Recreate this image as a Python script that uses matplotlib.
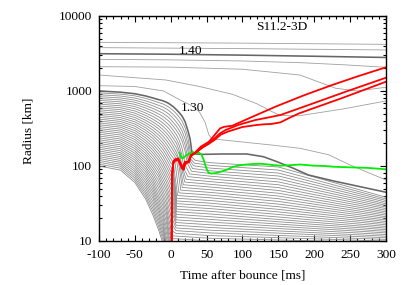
import matplotlib

matplotlib.use("Agg")
import matplotlib.pyplot as plt
from matplotlib.ticker import MultipleLocator, LogLocator, NullFormatter

# All radii are log10(r / km); times are ms after bounce.

# --- inner mass shells: infall part on a shared time grid ---
infall_t = [-100, -70, -50, -35, -25, -17, -11, -6, -3, 0]
infall_logr = [
    [2.000, 1.945, 1.780, 1.560, 1.350, 1.150, 0.970, 0.850, 0.750, 0.650],
    [2.025, 1.971, 1.809, 1.596, 1.395, 1.197, 1.018, 0.874, 0.774, 0.676],
    [2.050, 1.997, 1.839, 1.632, 1.439, 1.245, 1.067, 0.898, 0.798, 0.702],
    [2.075, 2.022, 1.868, 1.667, 1.484, 1.292, 1.115, 0.922, 0.822, 0.728],
    [2.100, 2.048, 1.898, 1.703, 1.528, 1.340, 1.164, 0.946, 0.846, 0.754],
    [2.125, 2.074, 1.927, 1.739, 1.573, 1.387, 1.212, 0.970, 0.870, 0.780],
    [2.150, 2.100, 1.957, 1.776, 1.613, 1.431, 1.265, 1.040, 0.926, 0.824],
    [2.175, 2.126, 1.988, 1.812, 1.653, 1.475, 1.318, 1.111, 0.982, 0.868],
    [2.200, 2.152, 2.018, 1.849, 1.692, 1.520, 1.370, 1.181, 1.038, 0.912],
    [2.225, 2.178, 2.049, 1.885, 1.732, 1.564, 1.423, 1.252, 1.094, 0.956],
    [2.250, 2.204, 2.079, 1.922, 1.772, 1.608, 1.476, 1.322, 1.150, 1.040],
    [2.275, 2.230, 2.110, 1.958, 1.812, 1.658, 1.526, 1.382, 1.226, 1.086],
    [2.300, 2.256, 2.140, 1.993, 1.852, 1.708, 1.576, 1.442, 1.302, 1.171],
    [2.325, 2.282, 2.171, 2.029, 1.893, 1.757, 1.626, 1.501, 1.379, 1.257],
    [2.350, 2.308, 2.201, 2.064, 1.933, 1.807, 1.676, 1.561, 1.455, 1.342],
    [2.375, 2.334, 2.232, 2.100, 1.973, 1.857, 1.726, 1.621, 1.531, 1.428],
    [2.400, 2.360, 2.262, 2.135, 2.013, 1.901, 1.777, 1.674, 1.590, 1.494],
    [2.425, 2.386, 2.292, 2.169, 2.054, 1.945, 1.828, 1.726, 1.649, 1.560],
    [2.450, 2.413, 2.323, 2.204, 2.094, 1.989, 1.880, 1.779, 1.709, 1.626],
    [2.475, 2.439, 2.353, 2.238, 2.135, 2.033, 1.931, 1.831, 1.768, 1.692],
    [2.500, 2.465, 2.383, 2.273, 2.175, 2.077, 1.982, 1.884, 1.827, 1.758],
    [2.525, 2.491, 2.413, 2.307, 2.214, 2.119, 2.030, 1.936, 1.880, 1.815],
    [2.550, 2.517, 2.442, 2.341, 2.253, 2.161, 2.077, 1.989, 1.934, 1.872],
    [2.575, 2.542, 2.472, 2.376, 2.291, 2.204, 2.125, 2.041, 1.987, 1.929],
    [2.600, 2.568, 2.501, 2.410, 2.330, 2.246, 2.172, 2.094, 2.041, 1.986],
    [2.625, 2.594, 2.531, 2.444, 2.369, 2.289, 2.220, 2.146, 2.094, 2.043],
    [2.650, 2.620, 2.560, 2.477, 2.406, 2.331, 2.265, 2.195, 2.146, 2.097],
    [2.675, 2.646, 2.589, 2.510, 2.442, 2.372, 2.309, 2.244, 2.198, 2.151],
    [2.700, 2.672, 2.618, 2.543, 2.479, 2.414, 2.354, 2.294, 2.251, 2.205],
    [2.725, 2.699, 2.647, 2.576, 2.515, 2.456, 2.398, 2.343, 2.303, 2.259],
    [2.750, 2.725, 2.676, 2.609, 2.552, 2.498, 2.443, 2.393, 2.355, 2.313],
    [2.775, 2.751, 2.705, 2.642, 2.588, 2.537, 2.487, 2.439, 2.404, 2.364],
    [2.800, 2.777, 2.734, 2.675, 2.624, 2.577, 2.531, 2.485, 2.453, 2.416],
    [2.825, 2.803, 2.764, 2.707, 2.661, 2.616, 2.574, 2.532, 2.503, 2.467],
    [2.850, 2.829, 2.793, 2.740, 2.697, 2.656, 2.618, 2.578, 2.552, 2.519],
    [2.875, 2.855, 2.822, 2.773, 2.733, 2.695, 2.662, 2.624, 2.601, 2.570],
    [2.900, 2.881, 2.850, 2.805, 2.768, 2.733, 2.704, 2.669, 2.648, 2.619],
    [2.925, 2.907, 2.878, 2.837, 2.803, 2.771, 2.745, 2.715, 2.695, 2.668],
    [2.950, 2.933, 2.906, 2.869, 2.837, 2.809, 2.787, 2.760, 2.742, 2.717],
    [2.975, 2.958, 2.935, 2.902, 2.872, 2.847, 2.828, 2.805, 2.788, 2.766],
]

# --- post-bounce part of shells 10..39 (shock hit, settling, slow contraction) ---
tail_t = [
    [1.0, 7.0, 55, 150, 300],
    [1.1, 7.1, 55, 150, 300],
    [1.2, 7.2, 55, 150, 300],
    [1.3, 7.3, 55, 150, 300],
    [1.4, 7.4, 55, 150, 300],
    [1.5, 7.5, 55, 150, 300],
    [1.6, 7.6, 55, 150, 300],
    [1.7, 7.7, 55, 150, 300],
    [1.8, 7.8, 55, 150, 300],
    [1.9, 7.9, 55, 150, 300],
    [2.0, 8.0, 55, 150, 300],
    [2.1, 8.1, 55, 150, 300],
    [2.2, 8.2, 55, 150, 300],
    [2.3, 8.3, 55, 150, 300],
    [2.4, 8.4, 55, 150, 300],
    [2.5, 8.5, 55, 150, 300],
    [3.5, 9.5, 55, 150, 300],
    [4, 5.5, 11.5, 55, 150, 300],
    [4, 8, 14, 55, 150, 300],
    [4, 8, 10, 16, 55, 150, 300],
    [4, 8, 11.5, 17.5, 55, 150, 300],
    [4, 8, 12, 13.5, 19.5, 55, 150, 300],
    [4, 8, 12, 15.5, 21.5, 55, 150, 300],
    [4, 8, 12, 16, 18, 24, 55, 150, 300],
    [4, 8, 12, 16, 20.5, 26.5, 55, 150, 300],
    [4, 8, 12, 16, 20, 23, 29, 55, 150, 300],
    [4, 8, 12, 16, 20, 24.5, 30.5, 55, 150, 300],
    [4, 8, 12, 16, 20, 24, 26, 32, 55, 150, 300],
    [4, 8, 12, 16, 20, 24, 27, 33, 55, 150, 300],
    [4, 8, 12, 16, 20, 24, 28.3, 34.3, 55, 150, 300],
]
tail_logr = [
    [1.030, 1.030, 1.000, 0.983, 0.956],
    [1.070, 1.066, 1.036, 1.014, 0.978],
    [1.141, 1.102, 1.072, 1.044, 0.999],
    [1.227, 1.138, 1.108, 1.074, 1.021],
    [1.312, 1.174, 1.144, 1.105, 1.043],
    [1.398, 1.210, 1.180, 1.135, 1.064],
    [1.464, 1.246, 1.216, 1.166, 1.086],
    [1.530, 1.282, 1.252, 1.196, 1.108],
    [1.596, 1.318, 1.288, 1.226, 1.129],
    [1.662, 1.354, 1.324, 1.257, 1.151],
    [1.728, 1.390, 1.360, 1.287, 1.172],
    [1.785, 1.426, 1.396, 1.320, 1.194],
    [1.842, 1.462, 1.432, 1.354, 1.216],
    [1.899, 1.498, 1.468, 1.388, 1.237],
    [1.956, 1.534, 1.504, 1.422, 1.259],
    [2.013, 1.570, 1.540, 1.457, 1.280],
    [2.050, 1.606, 1.576, 1.492, 1.302],
    [2.100, 2.080, 1.642, 1.612, 1.528, 1.324],
    [2.150, 2.090, 1.678, 1.648, 1.564, 1.345],
    [2.200, 2.135, 2.100, 1.714, 1.684, 1.600, 1.367],
    [2.250, 2.181, 2.090, 1.750, 1.720, 1.637, 1.388],
    [2.305, 2.240, 2.150, 2.050, 1.786, 1.756, 1.674, 1.410],
    [2.360, 2.300, 2.200, 2.000, 1.822, 1.792, 1.712, 1.432],
    [2.415, 2.355, 2.270, 2.130, 1.970, 1.858, 1.828, 1.750, 1.453],
    [2.470, 2.415, 2.340, 2.230, 2.000, 1.894, 1.864, 1.788, 1.475],
    [2.523, 2.474, 2.413, 2.327, 2.200, 2.040, 1.930, 1.900, 1.827, 1.496],
    [2.576, 2.529, 2.472, 2.394, 2.280, 2.070, 1.966, 1.936, 1.867, 1.518],
    [2.629, 2.584, 2.532, 2.461, 2.360, 2.200, 2.080, 2.002, 1.972, 1.906, 1.540],
    [2.681, 2.640, 2.591, 2.528, 2.440, 2.290, 2.100, 2.038, 2.008, 1.946, 1.561],
    [2.734, 2.695, 2.650, 2.595, 2.510, 2.380, 2.130, 2.074, 2.044, 1.987, 1.583],
]

# --- 1.30 Msun shell (thick) ---
m130_t = [-100, -70, -50, -35, -25, -17, -11, -6, -3, 0, 4, 8, 12, 16, 20, 24, 27,
          29.5, 33, 45, 70, 106, 129, 148, 171, 192, 227, 264, 300]
m130_logr = [3.000, 2.984, 2.963, 2.934, 2.907, 2.885, 2.870, 2.850, 2.835, 2.815,
             2.787, 2.750, 2.710, 2.662, 2.590, 2.470, 2.360, 2.180, 2.160, 2.155,
             2.160, 2.160, 2.124, 2.058, 1.969, 1.880, 1.800, 1.724, 1.650]

# --- 1.40 Msun shell (thick) ---
m140_t = [-100, 0, 100, 200, 300]
m140_logr = [3.497, 3.490, 3.478, 3.463, 3.447]

# --- outer thin shells ---
outer_t = [
    [-100, 100, 300],
    [-100, 100, 300],
    [-100, 0, 100, 180, 240, 300],
    [-100, 0, 100, 180, 230, 260, 300],
    [-100, -7, 40, 86, 120, 140, 151, 165, 179, 240, 300],
    [-100, -50, -10, 13, 30, 40, 48, 53, 56, 60, 70, 140, 180, 220, 250, 300],
]
outer_logr = [
    [3.649, 3.638, 3.622],
    [3.578, 3.565, 3.547],
    [3.422, 3.415, 3.400, 3.378, 3.350, 3.316],
    [3.324, 3.318, 3.290, 3.213, 3.036, 3.000, 3.050],
    [3.213, 3.147, 3.060, 2.956, 2.830, 2.730, 2.680, 2.670, 2.670, 2.760, 2.867],
    [3.071, 3.060, 3.000, 2.880, 2.800, 2.720, 2.580, 2.420, 2.380, 2.360, 2.350,
     2.280, 2.236, 2.150, 2.013, 1.813],
]

# --- shock radii (red) ---
shock_a_t = [1.2, 1.5, 2.0, 3.5, 5.9, 10.5, 13.8, 16.5, 18.4, 19.8, 22, 25.9, 28.2,
             32.8, 42, 53.3, 60, 68.6, 74.2, 85.8, 110, 146, 185, 225, 262, 300]
shock_a_logr = [0.95, 1.50, 1.90, 2.06, 2.09, 2.10, 2.036, 1.99, 1.956, 2.058, 2.05,
                2.058, 2.147, 2.17, 2.258, 2.324, 2.40, 2.50, 2.522, 2.537, 2.64,
                2.791, 2.94, 3.08, 3.20, 3.316]
shock_b_t = [1.3, 1.6, 2.1, 3.5, 6, 10, 12, 14.5, 16.5, 17.5, 18.5, 21, 24, 27, 30,
             35, 40, 47, 53, 60, 68, 76.5, 95, 118, 135, 153, 200, 244, 300]
shock_b_logr = [0.95, 1.50, 1.90, 2.04, 2.08, 2.09, 2.06, 2.00, 1.96, 1.95, 2.03,
                2.05, 2.06, 2.12, 2.15, 2.18, 2.22, 2.27, 2.30, 2.36, 2.43, 2.48,
                2.55, 2.613, 2.645, 2.68, 2.84, 2.991, 3.177]
shock_c_t = [1.4, 1.7, 2.2, 3.5, 6, 10, 12, 15, 17, 18, 19, 22, 25, 28, 32, 38, 45,
             52, 60, 70, 80, 100, 120, 130, 140, 153, 165, 179, 240, 300]
shock_c_logr = [0.95, 1.50, 1.90, 2.03, 2.07, 2.08, 2.05, 1.98, 1.96, 1.97, 2.00,
                2.04, 2.05, 2.13, 2.16, 2.20, 2.25, 2.29, 2.34, 2.42, 2.46, 2.52,
                2.547, 2.556, 2.56, 2.582, 2.64, 2.702, 2.91, 3.124]

# --- gain radius (green) ---
gain_t = [12.9, 14.5, 15.7, 18, 20, 23, 25.9, 28, 30.5, 33, 35, 37, 39.6, 43, 46,
          48, 50, 52.6, 56, 59.6, 65, 70, 78, 87, 100, 115, 125, 134, 145, 153, 165,
          180, 199, 215, 227, 250, 274, 300]
gain_logr = [2.17, 2.12, 2.104, 2.11, 2.13, 2.15, 2.17, 2.16, 2.19, 2.17, 2.16,
             2.19, 2.177, 2.149, 2.08, 2.013, 1.96, 1.911, 1.90, 1.902, 1.91, 1.924,
             1.95, 1.99, 2.015, 2.027, 2.03, 2.022, 2.01, 2.004, 2.01, 2.02, 2.004,
             2.0, 1.99, 1.982, 1.975, 1.956]


def km(logr):
    return [10 ** v for v in logr]


plt.rcParams["font.family"] = ["Liberation Serif", "DejaVu Serif"]
plt.rcParams["font.size"] = 9.6
plt.rcParams["axes.unicode_minus"] = False

fig = plt.figure(figsize=(4.07, 2.85), dpi=100)
ax = fig.add_axes([0.2432, 0.1544, 0.7052, 0.7895])

thin = dict(color="#8e8e8e", lw=0.6, solid_capstyle="butt")
thick = dict(color="#666666", lw=1.15)

for k, row in enumerate(infall_logr):
    t = list(infall_t)
    r = list(row)
    if k >= 10:
        t += tail_t[k - 10]
        r += tail_logr[k - 10]
    ax.plot(t, km(r), **thin)

for t, r in zip(outer_t, outer_logr):
    ax.plot(t, km(r), color="#a0a0a0", lw=0.6)

ax.plot(m130_t, km(m130_logr), **thick)
ax.plot(m140_t, km(m140_logr), **thick)

ax.plot(gain_t, km(gain_logr), color="#00ee00", lw=1.3)
for t, r in [(shock_a_t, shock_a_logr), (shock_b_t, shock_b_logr), (shock_c_t, shock_c_logr)]:
    ax.plot(t, km(r), color="#ff0000", lw=1.3)

ax.set_yscale("log")
ax.set_xlim(-100, 300)
ax.set_ylim(10, 10000)

ax.xaxis.set_major_locator(MultipleLocator(50))
ax.xaxis.set_minor_locator(MultipleLocator(10))
ax.set_yticks([10, 100, 1000, 10000], labels=["10", "100", "1000", "10000"])
ax.yaxis.set_minor_locator(LogLocator(base=10, subs=range(2, 10)))
ax.yaxis.set_minor_formatter(NullFormatter())
ax.tick_params(which="both", direction="in", top=True, right=True, width=0.8)
ax.tick_params(which="major", length=4, labelsize=9.6)
ax.tick_params(axis="x", which="major", pad=6)
ax.tick_params(axis="y", which="major", pad=5)
ax.tick_params(which="minor", length=2)
for s in ax.spines.values():
    s.set_linewidth(1.0)

ax.text(155, 7100, "S11.2-3D", ha="center", va="center")
ax.text(28, 3450, "1.40", ha="center", va="center")
ax.text(30, 590, "1.30", ha="center", va="center")

fig.text(0.596, 0.032, "Time after bounce [ms]", ha="center", va="center")
fig.text(0.0696, 0.54, "Radius [km]", ha="center", va="center", rotation=90)

fig.savefig("out.png", dpi=100)
